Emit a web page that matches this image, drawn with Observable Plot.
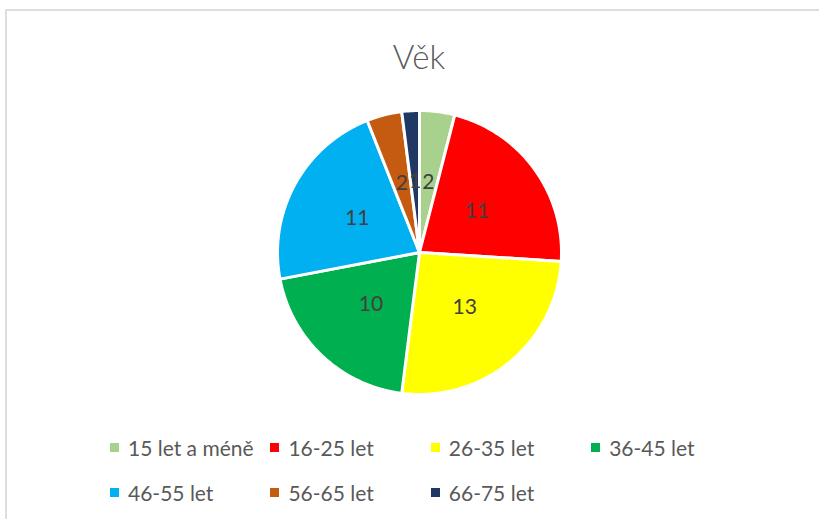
<!DOCTYPE html>
<html><head><meta charset="utf-8">
<script src="https://cdn.jsdelivr.net/npm/d3@7"></script>
<script src="https://cdn.jsdelivr.net/npm/@observablehq/plot@0.6"></script>
<style>
body{margin:0;background:#fff;font-family:Lato,"Open Sans",sans-serif;overflow:hidden;width:819px;height:519px}
#frame{position:absolute;left:5px;top:9px;width:840px;height:540px;border-top:2px solid #dedede;border-left:2px solid #dedede;}
#title{width:824px;height:80px;line-height:90px;text-align:center;font-size:33px;font-weight:300;color:#595959}
#legend{display:grid;grid-template-columns:repeat(4,160.4px);grid-auto-rows:45px;margin-left:103px;margin-top:4px;font-size:21px;color:#595959}
.item{display:flex;align-items:center;white-space:nowrap}
.sw{width:9px;height:9px;margin-right:9px;flex:none}
</style></head>
<body>
<div id="frame">
  <div id="title">Věk</div>
  <div id="chart"></div>
  <div id="legend"></div>
</div>
<script>
const categories = ["15 let a méně","16-25 let","26-35 let","36-45 let","46-55 let","56-65 let","66-75 let"];
const values = [2, 11, 13, 10, 11, 2, 1];
const colors = ["#A9D18E","#FF0000","#FFFF00","#00B050","#00B0F0","#C55A11","#203864"];

const W = 824, H = 330, R = 142, cx = 412, cy = 161;
const pie = d3.pie().sort(null).value(d => d.value)(categories.map((c, i) => ({category: c, value: values[i]})));

// slice outlines (unit circle, angle clockwise from 12 o'clock)
const outline = [];
pie.forEach(s => {
  const cat = s.data.category;
  outline.push({category: cat, x: 0, y: 0});
  const n = Math.max(4, Math.ceil((s.endAngle - s.startAngle) / (Math.PI / 180)));
  for (let k = 0; k <= n; k++) {
    const a = s.startAngle + (s.endAngle - s.startAngle) * k / n;
    outline.push({category: cat, x: Math.sin(a), y: Math.cos(a)});
  }
});
const labels = pie.map(s => {
  const a = (s.startAngle + s.endAngle) / 2;
  return {value: s.data.value, x: 0.5 * Math.sin(a), y: 0.5 * Math.cos(a)};
});

const chart = Plot.plot({
  width: W, height: H, margin: 0,
  style: {display: "block", fontFamily: "Lato, 'Open Sans', sans-serif", background: "transparent"},
  x: {domain: [-cx / R, (W - cx) / R], axis: null},
  y: {domain: [-(H - cy) / R, cy / R], axis: null},
  color: {domain: categories, range: colors},
  marks: [
    Plot.line(outline, {x: "x", y: "y", z: "category", fill: "category", stroke: "white", strokeWidth: 3, strokeLinejoin: "round", curve: "linear-closed"}),
    Plot.text(labels, {x: "x", y: "y", text: d => String(d.value), fill: "#404040", fontSize: 21})
  ]
});
document.getElementById("chart").appendChild(chart);

const legend = document.getElementById("legend");
categories.forEach((c, i) => {
  const it = document.createElement("div");
  it.className = "item";
  it.innerHTML = `<span class="sw" style="background:${colors[i]}"></span><span>${c}</span>`;
  legend.appendChild(it);
});
</script>
</body></html>
